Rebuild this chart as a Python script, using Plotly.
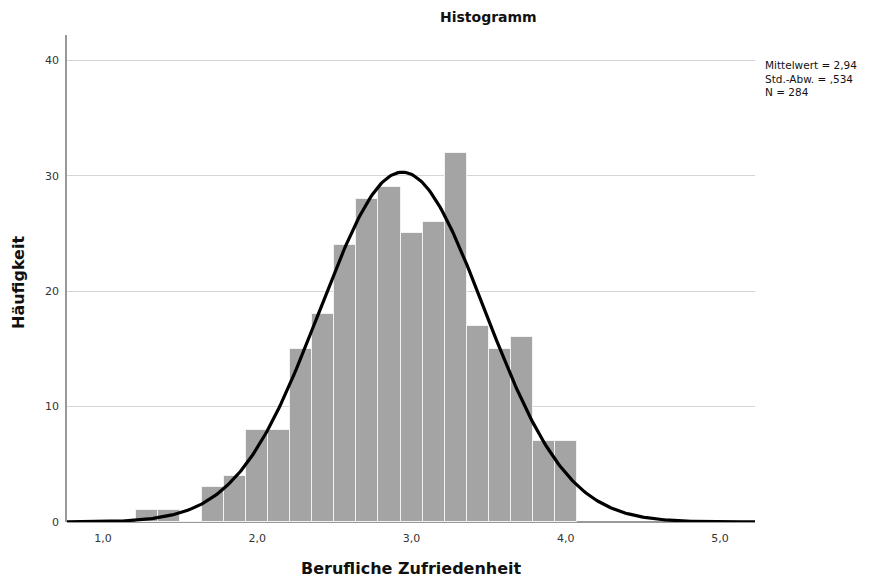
import numpy as np
import plotly.graph_objects as go

# Bins: scale values k/7 (means of 7 items), width 1/7
bin_k = list(range(9, 29))
counts = [1, 1, 0, 3, 4, 8, 8, 15, 18, 24, 28, 29, 25, 26, 32, 17, 15, 16, 7, 7]
mean_val = 2.94
sd_val = 0.534
n_total = 284
x_tickvals = [1.0, 2.0, 3.0, 4.0, 5.0]
x_ticktext = ["1,0", "2,0", "3,0", "4,0", "5,0"]
y_tickvals = [0, 10, 20, 30, 40]

bin_width = 1 / 7
centers = [k / 7 for k in bin_k]

x_min, x_max = 0.766, 5.227
xs = np.linspace(x_min, x_max, 400)
ys = n_total * bin_width / (sd_val * np.sqrt(2 * np.pi)) * np.exp(-0.5 * ((xs - mean_val) / sd_val) ** 2)

W, H = 877, 581
ML, MR, MT, MB = 67, 122, 35, 59
PW, PH = W - ML - MR, H - MT - MB

fig = go.Figure()
fig.add_trace(go.Bar(
    x=centers, y=counts, width=bin_width,
    marker=dict(color="#a4a4a4", line=dict(color="#f2f2f2", width=1)),
    hoverinfo="x+y", showlegend=False,
))
fig.add_trace(go.Scatter(
    x=xs, y=ys, mode="lines", line=dict(color="black", width=3.2),
    showlegend=False, hoverinfo="skip",
))

fig.update_layout(
    width=W, height=H,
    margin=dict(l=ML, r=MR, t=MT, b=MB),
    plot_bgcolor="white", paper_bgcolor="white",
    font=dict(family="DejaVu Sans, sans-serif", size=11, color="#333333"),
    bargap=0,
    xaxis=dict(
        range=[x_min, x_max], tickvals=x_tickvals, ticktext=x_ticktext,
        showgrid=False, zeroline=False, showline=False, ticks="",
        ticklabelstandoff=8, automargin=False,
        tickfont=dict(size=11, color="#333333"),
    ),
    yaxis=dict(
        range=[0, 42.2], tickvals=y_tickvals,
        showgrid=True, gridcolor="#d6d6d6", gridwidth=1.2,
        zeroline=True, zerolinecolor="#999999", zerolinewidth=1.5,
        showline=True, linecolor="#999999", linewidth=1.5,
        ticks="", ticklabelstandoff=4, automargin=False,
        tickfont=dict(size=11, color="#333333"),
    ),
    annotations=[
        dict(text="<b>Histogramm</b>", xref="paper", yref="paper", x=(488 - ML) / PW,
             y=1, yanchor="bottom", yshift=8, showarrow=False, font=dict(size=14, color="#111111")),
        dict(text="<b>Berufliche Zufriedenheit</b>", xref="paper", yref="paper", x=0.5,
             y=-(568 - (H - MB)) / PH, yanchor="middle", showarrow=False,
             font=dict(size=16, color="#111111")),
        dict(text="<b>Häufigkeit</b>", xref="paper", yref="paper", x=-(ML - 18) / PW,
             xanchor="center", y=1 - (283 - MT) / PH, yanchor="middle", textangle=-90,
             showarrow=False, font=dict(size=16, color="#111111")),
        dict(text="Mittelwert = 2,94<br>Std.-Abw. = ,534<br>N = 284",
             xref="paper", yref="paper", x=1, xshift=8, xanchor="left",
             y=(H - MB - 57) / PH, yanchor="top", align="left", showarrow=False,
             font=dict(size=10.5, color="#111111")),
    ],
)

fig.write_html("out.html")
